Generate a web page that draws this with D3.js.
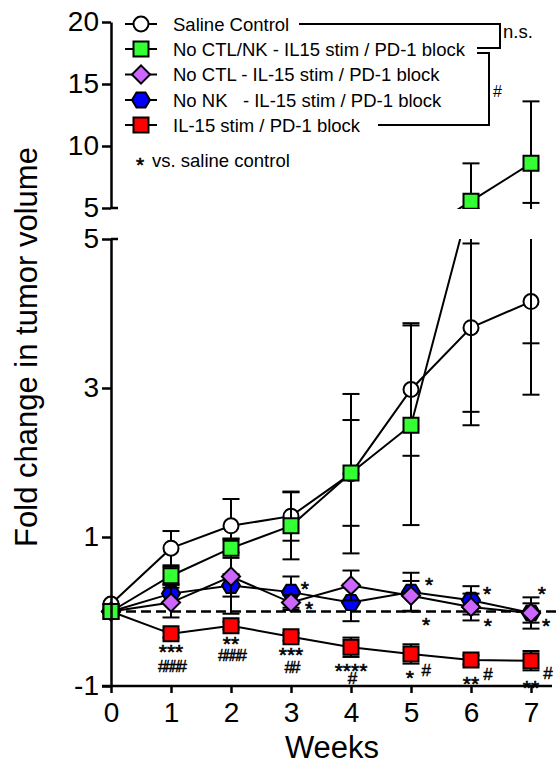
<!DOCTYPE html>
<html>
<head>
<meta charset="utf-8">
<script src="https://cdn.jsdelivr.net/npm/d3@7"></script>
<style>
  body { margin: 0; background: #fff; }
  svg text { font-family: "Liberation Sans", Arial, sans-serif; fill: #000; }
</style>
</head>
<body>
<div id="chart"></div>
<script>
// ---- data ----
const weeks = [0, 1, 2, 3, 4, 5, 6, 7];

const salineMean  = [0.1, 0.85, 1.15, 1.28, 1.85, 2.98, 3.81, 4.16];
const salineSem   = [0, 0.23, 0.36, 0.33, 1.07, 0.89, 1.13, 1.25];
const noCtlNkMean = [0, 0.48, 0.85, 1.15, 1.86, 2.5, 5.55, 8.6];
const noCtlNkSem  = [0, 0.12, 0.13, 0.45, 0.71, 1.34, 3.05, 5.0];
const noCtlMean   = [0, 0.12, 0.47, 0.12, 0.35, 0.21, 0.06, -0.02];
const noCtlSem    = [0, 0.2, 0.5, 0.1, 0.2, 0.2, 0.18, 0.13];
const noNkMean    = [0, 0.24, 0.35, 0.26, 0.12, 0.26, 0.15, -0.02];
const noNkSem     = [0, 0.12, 0.15, 0.21, 0.25, 0.26, 0.19, 0.21];
const il15Mean    = [0, -0.3, -0.19, -0.34, -0.48, -0.57, -0.65, -0.66];
const il15Sem     = [0, 0.05, 0.05, 0.05, 0.13, 0.13, 0.06, 0.13];

const legendLabels = [
  "Saline Control",
  "No CTL/NK - IL15 stim / PD-1 block",
  "No CTL - IL-15 stim / PD-1 block",
  "No NK   - IL-15 stim / PD-1 block",
  "IL-15 stim / PD-1 block"
];

const lowTicks = [-1, 1, 3, 5];
const highTicks = [5, 10, 15, 20];

// significance marks (placed in week / value units)
const starNotes = [
  {text: "***", week: 1, value: -0.47}, {text: "**", week: 2, value: -0.37},
  {text: "***", week: 3, value: -0.52}, {text: "****", week: 4, value: -0.73},
  {text: "*", week: 4.98, value: -0.83}, {text: "**", week: 6, value: -0.91},
  {text: "**", week: 7, value: -0.96},
  {text: "*", week: 3.23, value: 0.37}, {text: "*", week: 3.3, value: 0.1},
  {text: "*", week: 5.3, value: 0.42}, {text: "*", week: 5.25, value: -0.11},
  {text: "*", week: 6.27, value: 0.3}, {text: "*", week: 6.28, value: -0.13},
  {text: "*", week: 7.18, value: 0.3}, {text: "*", week: 7.25, value: -0.13}
];
const hashNotes = [
  {text: "####", week: 1, value: -0.73}, {text: "####", week: 2, value: -0.58},
  {text: "##", week: 3, value: -0.74}, {text: "#", week: 4, value: -0.89},
  {text: "#", week: 5.23, value: -0.79}, {text: "#", week: 6.26, value: -0.84},
  {text: "#", week: 7.26, value: -0.83}
];

// ---- setup ----
const W = 560, H = 765;
const svg = d3.select("#chart").append("svg")
  .attr("width", W).attr("height", H);

const x = d3.scaleLinear().domain([0, 7]).range([111, 531]);
const yLow = d3.scaleLinear().domain([-1, 5]).range([686, 239]);
const yHigh = d3.scaleLinear().domain([5, 20]).range([208, 22]);

const hexPath = (() => {
  const p = d3.path(), w = 9, h = 7.5;
  p.moveTo(-w, 0); p.lineTo(-w / 2, -h); p.lineTo(w / 2, -h);
  p.lineTo(w, 0); p.lineTo(w / 2, h); p.lineTo(-w / 2, h); p.closePath();
  return p.toString();
})();

function addMarker(g, type, fill) {
  if (type === "circle") {
    g.append("path").attr("d", d3.symbol(d3.symbolCircle, Math.PI * 7.5 * 7.5)());
  } else if (type === "square") {
    g.append("path").attr("d", d3.symbol(d3.symbolSquare, 225)());
  } else if (type === "diamond") {
    g.append("path").attr("d", d3.symbol(d3.symbolSquare, 165)()).attr("transform", "rotate(45)");
  } else {
    g.append("path").attr("d", hexPath);
  }
  g.selectAll("path").attr("fill", fill).attr("stroke", "#000").attr("stroke-width", 2);
}

const series = {
  saline:  {mean: salineMean,  sem: salineSem,  marker: "circle",  fill: "#ffffff"},
  noCtlNk: {mean: noCtlNkMean, sem: noCtlNkSem, marker: "square",  fill: "#33ff33"},
  noCtl:   {mean: noCtlMean,   sem: noCtlSem,   marker: "diamond", fill: "#cc66ff"},
  noNk:    {mean: noNkMean,    sem: noNkSem,    marker: "hex",     fill: "#0000ff"},
  il15:    {mean: il15Mean,    sem: il15Sem,    marker: "square",  fill: "#ff0000"}
};
const legendOrder = ["saline", "noCtlNk", "noCtl", "noNk", "il15"];
const drawOrder = ["saline", "il15", "noNk", "noCtl", "noCtlNk"];

// clip areas for the broken axis
const defs = svg.append("defs");
defs.append("clipPath").attr("id", "clipLow").append("rect")
  .attr("x", 0).attr("y", yLow(5)).attr("width", W).attr("height", H - yLow(5));
defs.append("clipPath").attr("id", "clipHigh").append("rect")
  .attr("x", 0).attr("y", 0).attr("width", W).attr("height", yHigh(5) + 1);

// zero reference line
svg.append("line")
  .attr("x1", x(0)).attr("x2", W)
  .attr("y1", yLow(0)).attr("y2", yLow(0))
  .attr("stroke", "#000").attr("stroke-width", 2.5)
  .attr("stroke-dasharray", "10,5");

function drawPanel(y, clipId) {
  const panel = svg.append("g").attr("clip-path", `url(#${clipId})`);
  drawOrder.forEach(key => {
    const s = series[key];
    const g = panel.append("g");
    // error bars
    weeks.forEach((w, i) => {
      if (s.sem[i] <= 0) return;
      const lo = s.mean[i] - s.sem[i], hi = s.mean[i] + s.sem[i];
      g.append("line").attr("x1", x(w)).attr("x2", x(w))
        .attr("y1", y(lo)).attr("y2", y(hi));
      [lo, hi].forEach(v => {
        g.append("line").attr("x1", x(w) - 8.5).attr("x2", x(w) + 8.5)
          .attr("y1", y(v)).attr("y2", y(v));
      });
    });
    g.selectAll("line").attr("stroke", "#000").attr("stroke-width", 2);
    // connecting line
    g.append("path")
      .datum(weeks.map((w, i) => [w, s.mean[i]]))
      .attr("fill", "none").attr("stroke", "#000").attr("stroke-width", 2)
      .attr("d", d3.line().x(d => x(d[0])).y(d => y(d[1])));
    // markers
    weeks.forEach((w, i) => {
      const m = g.append("g").attr("transform", `translate(${x(w)},${y(s.mean[i])})`);
      addMarker(m, s.marker, s.fill);
    });
  });
}
drawPanel(yLow, "clipLow");
drawPanel(yHigh, "clipHigh");

// ---- axes ----
const fontBig = 28;
const fmt = d => String(d);
const xAxis = svg.append("g")
  .attr("transform", `translate(0,${yLow(-1)})`)
  .call(d3.axisBottom(x).tickValues(weeks).tickFormat(fmt)
    .tickSize(7).tickSizeOuter(0).tickPadding(9));
xAxis.select(".domain").remove();
xAxis.append("line")
  .attr("x1", x(0) - 9).attr("x2", x(7.35)).attr("y1", 0).attr("y2", 0);

const yAxisLow = svg.append("g")
  .attr("transform", `translate(${x(0)},0)`)
  .call(d3.axisLeft(yLow).tickValues(lowTicks).tickFormat(fmt)
    .tickSize(9).tickSizeOuter(0).tickPadding(3));
const yAxisHigh = svg.append("g")
  .attr("transform", `translate(${x(0)},0)`)
  .call(d3.axisLeft(yHigh).tickValues(highTicks).tickFormat(fmt)
    .tickSize(9).tickSizeOuter(0).tickPadding(3));
// break stubs
yAxisLow.append("line").attr("x1", 0).attr("x2", 7).attr("y1", yLow(5)).attr("y2", yLow(5));
yAxisHigh.append("line").attr("x1", 0).attr("x2", 7).attr("y1", yHigh(5)).attr("y2", yHigh(5));

[xAxis, yAxisLow, yAxisHigh].forEach(a => {
  a.selectAll("line, path").attr("stroke", "#000").attr("stroke-width", 2.5);
  a.selectAll("text").attr("font-size", fontBig).attr("fill", "#000")
    .style("font-family", "'Liberation Sans', Arial, sans-serif");
});

svg.append("text")
  .attr("transform", `translate(37,347) rotate(-90)`)
  .attr("text-anchor", "middle").attr("font-size", 31)
  .text("Fold change in tumor volume");

svg.append("text")
  .attr("x", 332).attr("y", 758)
  .attr("text-anchor", "middle").attr("font-size", 31)
  .text("Weeks");

// ---- significance marks ----
svg.append("g").selectAll("text").data(starNotes).join("text")
  .attr("x", d => x(d.week)).attr("y", d => yLow(d.value) + 12)
  .attr("text-anchor", "middle").attr("font-size", 21)
  .attr("stroke", "#000").attr("stroke-width", 0.6)
  .text(d => d.text);
svg.append("g").selectAll("text").data(hashNotes).join("text")
  .attr("x", d => x(d.week)).attr("y", d => yLow(d.value) + 6)
  .attr("text-anchor", "middle").attr("font-size", 17)
  .attr("letter-spacing", -3)
  .attr("stroke", "#000").attr("stroke-width", 0.4)
  .text(d => d.text);

// ---- legend ----
const legendRows = [24, 49, 74.5, 100, 125];
const legend = svg.append("g");
legendOrder.forEach((key, i) => {
  const s = series[key];
  const row = legend.append("g").attr("transform", `translate(0,${legendRows[i]})`);
  row.append("line").attr("x1", 125).attr("x2", 157).attr("y1", 0).attr("y2", 0)
    .attr("stroke", "#000").attr("stroke-width", 2);
  addMarker(row.append("g").attr("transform", "translate(141,0)"), s.marker, s.fill);
  row.append("text").attr("x", 173).attr("y", 6.5)
    .attr("font-size", 18.5).style("white-space", "pre")
    .text(legendLabels[i]);
});
legend.append("text").attr("x", 140).attr("y", 172).attr("text-anchor", "middle")
  .attr("font-size", 21).attr("stroke", "#000").attr("stroke-width", 0.6).text("*");
legend.append("text").attr("x", 152).attr("y", 166.5).attr("font-size", 18.5)
  .text("vs. saline control");

// comparison brackets
legend.append("path")
  .attr("d", `M299,24 H500 V48 H477`)
  .attr("fill", "none").attr("stroke", "#000").attr("stroke-width", 2);
legend.append("path")
  .attr("d", `M477,53 H489 V125 H378`)
  .attr("fill", "none").attr("stroke", "#000").attr("stroke-width", 2);
legend.append("text").attr("x", 503).attr("y", 38).attr("font-size", 18.5).text("n.s.");
legend.append("text").attr("x", 493).attr("y", 97).attr("font-size", 16).text("#");
</script>
</body>
</html>
